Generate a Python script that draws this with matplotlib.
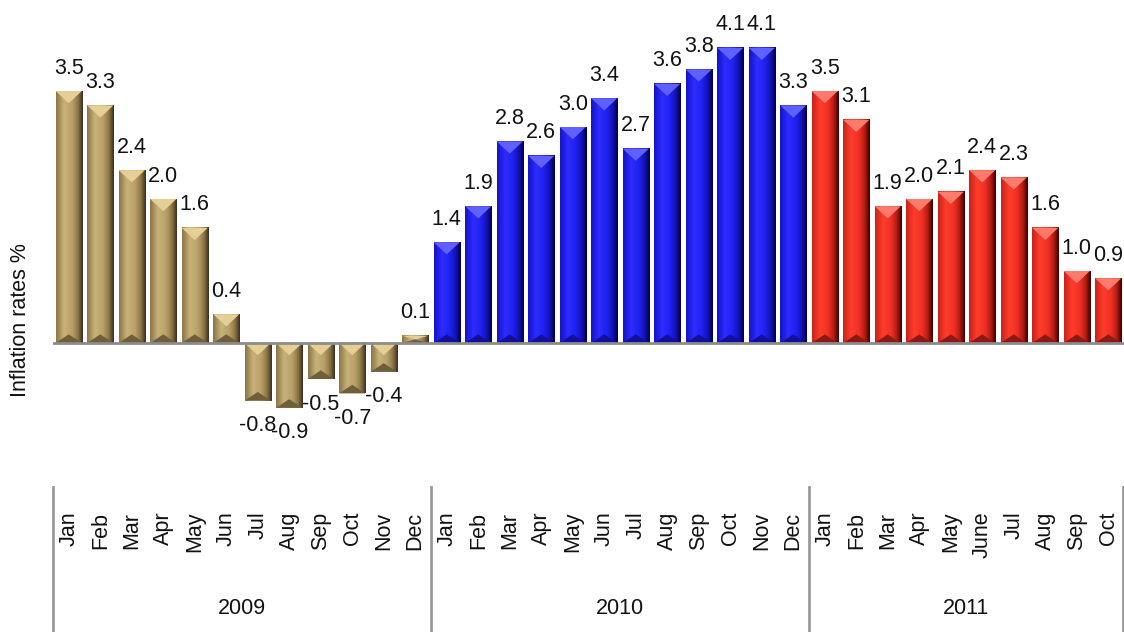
import matplotlib
matplotlib.use("Agg")
import matplotlib.pyplot as plt
import numpy as np
from matplotlib.patches import Polygon
from matplotlib.colors import LinearSegmentedColormap, to_rgb
from matplotlib.transforms import blended_transform_factory

plt.rcParams['font.family'] = ['Liberation Sans', 'DejaVu Sans']

months = ["Jan", "Feb", "Mar", "Apr", "May", "Jun", "Jul", "Aug", "Sep", "Oct", "Nov", "Dec",
          "Jan", "Feb", "Mar", "Apr", "May", "Jun", "Jul", "Aug", "Sep", "Oct", "Nov", "Dec",
          "Jan", "Feb", "Mar", "Apr", "May", "June", "Jul", "Aug", "Sep", "Oct"]
years = ["2009", "2010", "2011"]
year_counts = [12, 12, 10]
values = [3.5, 3.3, 2.4, 2.0, 1.6, 0.4, -0.8, -0.9, -0.5, -0.7, -0.4, 0.1,
          1.4, 1.9, 2.8, 2.6, 3.0, 3.4, 2.7, 3.6, 3.8, 4.1, 4.1, 3.3,
          3.5, 3.1, 1.9, 2.0, 2.1, 2.4, 2.3, 1.6, 1.0, 0.9]
ylabel = "Inflation rates %"

# colour schemes per year: (left, light, mid, dark edge, top bevel, bottom bevel)
schemes = [
    dict(stops=["#8a7646", "#c9b27a", "#b8a068", "#8c7646", "#3a3020"], top="#e6cf96", bot="#6e5e3a"),
    dict(stops=["#1414c8", "#2c2cff", "#2020f0", "#1212b0", "#00004a"], top="#6060ff", bot="#10109a"),
    dict(stops=["#c8241a", "#ff3c2c", "#f03024", "#b01c14", "#3c0000"], top="#ff7a6a", bot="#8c1a14"),
]

W, H = 1124, 632
fig = plt.figure(figsize=(W / 100, H / 100), dpi=100)
ax_left, ax_right = 53, 1124
ax_top, ax_bot = 0, 470
zero_px = 343
ppu = 72.0
ax = fig.add_axes([ax_left / W, (H - ax_bot) / H, (ax_right - ax_left) / W, (ax_bot - ax_top) / H])

n = len(values)
x = np.arange(n)
colors_idx = np.repeat(np.arange(len(years)), year_counts)
bars = ax.bar(x, values, width=0.83, color="none", edgecolor="none", zorder=2)

ylim_top = (zero_px - ax_top) / ppu
ylim_bot = -(ax_bot - zero_px) / ppu

for p, ci, v in zip(bars.patches, colors_idx, values):
    sc = schemes[ci]
    x0, w = p.get_x(), p.get_width()
    y0, h = p.get_y(), p.get_height()
    ylo, yhi = min(y0, y0 + h), max(y0, y0 + h)
    cmap = LinearSegmentedColormap.from_list(
        "c", list(zip([0.0, 0.3, 0.6, 0.82, 1.0], sc["stops"])))
    grad = np.linspace(0, 1, 64).reshape(1, -1)
    ax.imshow(grad, cmap=cmap, extent=[x0, x0 + w, ylo, yhi], aspect="auto",
              interpolation="bilinear", zorder=2)
    hh = yhi - ylo
    d = min(0.17, hh / 2)
    ax.add_patch(Polygon([(x0, yhi), (x0 + w, yhi), (x0 + w / 2, yhi - d)],
                         closed=True, facecolor=sc["top"], edgecolor="none", zorder=3))
    db = min(0.12, hh / 2)
    ax.add_patch(Polygon([(x0, ylo), (x0 + w, ylo), (x0 + w / 2, ylo + db)],
                         closed=True, facecolor=sc["bot"], edgecolor="none", zorder=3))
    if v >= 0:
        ax.annotate(f"{v:.1f}", (x0 + w / 2, yhi), xytext=(0, 16.5), textcoords="offset points",
                    ha="center", va="center", fontsize=15.5, color="#111111", zorder=5)
    else:
        ax.annotate(f"{v:.1f}", (x0 + w / 2, ylo), xytext=(0, -18), textcoords="offset points",
                    ha="center", va="center", fontsize=15.5, color="#111111", zorder=5)

ax.axhline(0, color="#8c8c8c", lw=2, zorder=4)
ax.set_xlim(-0.5, n - 0.5)
ax.set_ylim(ylim_bot, ylim_top)
for s in ax.spines.values():
    s.set_visible(False)
ax.set_yticks([])
ax.set_xticks(x)
ax.set_xticklabels(months, rotation=90, fontsize=15.5, color="#111111")
ax.tick_params(axis="x", length=0, pad=30)

tr = blended_transform_factory(ax.transData, fig.transFigure)
bounds = np.concatenate([[0], np.cumsum(year_counts)]) - 0.5
for b in bounds:
    bx = min(b, n - 0.53)
    ax.plot([bx, bx], [1 - 487 / H, 0], transform=tr, color="#9a9a9a", lw=2, clip_on=False)
for i, yr in enumerate(years):
    cx = (bounds[i] + bounds[i + 1]) / 2
    ax.text(cx, 1 - 608 / H, yr, transform=tr, ha="center", va="center", fontsize=15.5, color="#111111")

fig.text(20 / W, 1 - 320 / H, ylabel, rotation=90, ha="center", va="center", fontsize=15.5, color="#111111")

fig.savefig("out.png", dpi=100)
